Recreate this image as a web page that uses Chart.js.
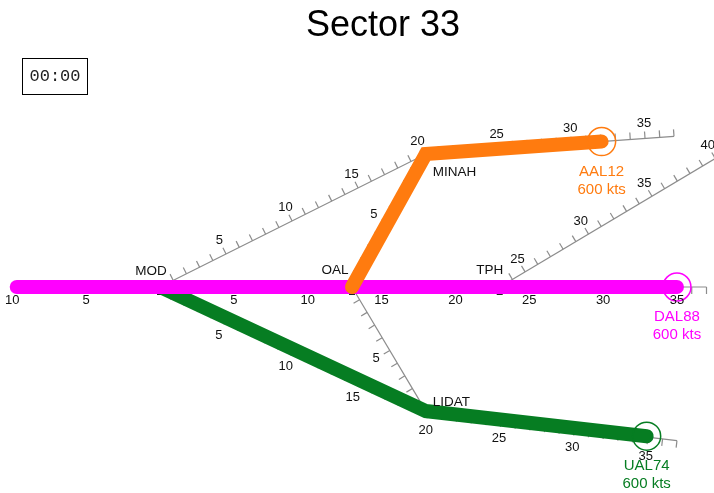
<!DOCTYPE html>
<html>
<head>
<meta charset="utf-8">
<title>Sector 33</title>
<script src="https://cdn.jsdelivr.net/npm/chart.js@4.4.1/dist/chart.umd.min.js"></script>
<style>
  html, body { margin: 0; padding: 0; background: #fff; }
  #wrap { position: relative; width: 714px; height: 493px; }
  #clock {
    position: absolute; left: 22px; top: 58px; width: 64px; height: 35px;
    border: 1px solid #000; text-align: center;
    font: 17px "Liberation Mono", "DejaVu Sans Mono", monospace; color: #222;
    line-height: 35px;
  }
</style>
</head>
<body>
<div id="wrap">
  <canvas id="sector" width="714" height="493"></canvas>
  <div id="clock">00:00</div>
</div>
<script>
// all positions in nm from MOD, x = east, y = north

//waypoints
const wpNames = ['MOD', 'OAL', 'TPH', 'MINAH', 'LIDAT'];
const wpX = [0, 13, 23, 18, 18];
const wpY = [0, 0, 0, 9, -8.4];

//airways (thin grey lines with nm ticks), the nm value at their first point, and their labelled marks
const hwyPts      = [[-10, 0], [37, 0]];                    // through MOD, OAL, TPH
const modMinahPts = [[0, 0], [18, 9], [34.8, 10.2]];
const oalMinahPts = [[13, 0], [18, 9]];
const oalLidatPts = [[13, 0], [18, -8.4]];
const modLidatPts = [[0, 0], [18, -8.4], [35, -10.4]];
const tphPts      = [[23, 0], [37.6, 8.7]];
const airways = [hwyPts, modMinahPts, oalMinahPts, oalLidatPts, modLidatPts, tphPts];
const airwayStart = [-10, 0, 0, 0, 0, 23];
const airwayLabels = [
  [-10, -5, 5, 10, 15, 20, 25, 30, 35],
  [5, 10, 15, 20, 25, 30, 35],
  [5],
  [5],
  [5, 10, 15, 20, 25, 30, 35],
  [25, 30, 35, 40]
];

//flights
const flights = ['AAL12', 'DAL88', 'UAL74'];
const speeds = [600, 600, 600];
const aalTrack = [[13, 0], [18, 9], [29.9, 9.85]];
const dalTrack = [[-9.7, 0], [35, 0]];
const ualTrack = [[0, 0], [18, -8.4], [32.95, -10.1]];
const tracks = [aalTrack, dalTrack, ualTrack];

// styling only
const flightColors = ['#ff7b0f', '#ff00ff', '#067d22'];
const airwaySide = [-1, 1, 1, -1, -1, 1];      // which side ticks + labels go
const airwayGap = [13, 15, 16, 16, 19, 15];   // px from line to label
const wpLabelPos = {
  MOD:   { dx: -9,   dy: -16, align: 'center' },
  OAL:   { dx: -17,  dy: -17, align: 'center' },
  TPH:   { dx: -10,  dy: -17, align: 'center' },
  MINAH: { dx: 7,    dy: 18,  align: 'left' },
  LIDAT: { dx: 7,    dy: -9,  align: 'left' }
};
const FONT = '"Liberation Sans", Arial, sans-serif';

var toXY = function(p) { return { x: p[0], y: p[1] }; };

//pixel helpers along an airway
var airwayGeom = function(chart, pts) {
  const sx = chart.scales.x, sy = chart.scales.y;
  let cum = [0];
  for (let i = 1; i < pts.length; i++) {
    cum.push(cum[i - 1] + Math.hypot(pts[i][0] - pts[i - 1][0], pts[i][1] - pts[i - 1][1]));
  }
  let px = pts.map(p => [sx.getPixelForValue(p[0]), sy.getPixelForValue(p[1])]);
  return { cum: cum, px: px, total: cum[cum.length - 1] };
};

var pointAt = function(g, d) {
  let i = 0;
  while (i < g.cum.length - 2 && d >= g.cum[i + 1]) i++;
  const t = (d - g.cum[i]) / (g.cum[i + 1] - g.cum[i]);
  const a = g.px[i], b = g.px[i + 1];
  const len = Math.hypot(b[0] - a[0], b[1] - a[1]);
  return {
    x: a[0] + (b[0] - a[0]) * t,
    y: a[1] + (b[1] - a[1]) * t,
    ux: (b[0] - a[0]) / len,
    uy: (b[1] - a[1]) / len
  };
};

const routeMarks = {
  id: 'routeMarks',
  beforeDatasetsDraw(chart) {
    const ctx = chart.ctx;
    const sx = chart.scales.x, sy = chart.scales.y;
    ctx.save();
    ctx.strokeStyle = '#8c8c8c';
    ctx.lineWidth = 1.2;
    airways.forEach((pts, r) => {
      const g = airwayGeom(chart, pts);
      const side = airwaySide[r];
      let dists = [];
      for (let v = Math.floor(airwayStart[r]) + 1; v < airwayStart[r] + g.total - 0.3; v++) {
        dists.push(v - airwayStart[r]);
      }
      dists.push(g.total);
      dists.forEach(d => {
        const p = pointAt(g, d);
        const nx = side * p.uy, ny = -side * p.ux;
        ctx.beginPath();
        ctx.moveTo(p.x, p.y);
        ctx.lineTo(p.x + nx * 7, p.y + ny * 7);
        ctx.stroke();
      });
    });
    //fix marks on the main airway
    ctx.fillStyle = '#222';
    for (let i = 0; i < 3; i++) {
      ctx.fillRect(sx.getPixelForValue(wpX[i]) - 3, sy.getPixelForValue(wpY[i]) + 3, 6, 5);
    }
    ctx.restore();
  },
  afterDatasetsDraw(chart) {
    const ctx = chart.ctx;
    const sx = chart.scales.x, sy = chart.scales.y;
    ctx.save();
    ctx.textBaseline = 'middle';
    //distance labels
    ctx.fillStyle = '#111';
    ctx.font = '13px ' + FONT;
    ctx.textAlign = 'center';
    airways.forEach((pts, r) => {
      const g = airwayGeom(chart, pts);
      const side = airwaySide[r];
      airwayLabels[r].forEach(v => {
        const p = pointAt(g, Math.min(v - airwayStart[r], g.total));
        const nx = side * p.uy, ny = -side * p.ux;
        ctx.fillText(String(Math.abs(v)), p.x + nx * airwayGap[r], p.y + ny * airwayGap[r]);
      });
    });
    //waypoint names
    ctx.font = '13.5px ' + FONT;
    wpNames.forEach((name, i) => {
      const lp = wpLabelPos[name];
      ctx.textAlign = lp.align;
      ctx.fillText(name, sx.getPixelForValue(wpX[i]) + lp.dx, sy.getPixelForValue(wpY[i]) + lp.dy);
    });
    //flight tags
    ctx.font = '15px ' + FONT;
    ctx.textAlign = 'center';
    flights.forEach((f, i) => {
      const last = tracks[i][tracks[i].length - 1];
      const x = sx.getPixelForValue(last[0]), y = sy.getPixelForValue(last[1]);
      ctx.fillStyle = flightColors[i];
      ctx.fillText(f, x, y + 30);
      ctx.fillText(speeds[i] + ' kts', x, y + 48);
    });
    ctx.restore();
  }
};

let datasets = [];
//aircraft rings
flights.forEach((f, i) => {
  const last = tracks[i][tracks[i].length - 1];
  datasets.push({
    label: f,
    data: [toXY(last)],
    showLine: false,
    pointRadius: 14,
    pointBackgroundColor: 'rgba(0,0,0,0)',
    pointBorderColor: flightColors[i],
    pointBorderWidth: 1.5,
    order: 1,
    clip: false
  });
});
//flown tracks
flights.forEach((f, i) => {
  datasets.push({
    label: f + ' track',
    data: tracks[i].map(toXY),
    showLine: true,
    borderColor: flightColors[i],
    borderWidth: 14,
    borderCapStyle: 'round',
    borderJoinStyle: 'miter',
    pointRadius: 0,
    order: 2,
    clip: false
  });
});
//airways
airways.forEach((pts, r) => {
  datasets.push({
    label: 'airway ' + r,
    data: pts.map(toXY),
    showLine: true,
    borderColor: '#8c8c8c',
    borderWidth: 1.2,
    pointRadius: 0,
    order: 5,
    clip: false
  });
});

new Chart(document.getElementById('sector'), {
  type: 'scatter',
  data: { datasets: datasets },
  options: {
    responsive: false,
    animation: false,
    events: [],
    layout: { autoPadding: false, padding: { left: 52, right: 0, top: 0, bottom: 0 } },
    scales: {
      x: { type: 'linear', display: false, min: -7.312, max: 37.508 },
      y: { type: 'linear', display: false, min: -13.947, max: 16.236 }
    },
    plugins: {
      legend: { display: false },
      tooltip: { enabled: false },
      title: {
        display: true,
        text: 'Sector 33',
        fullSize: false,
        color: '#000',
        font: { size: 36, family: FONT, weight: 'normal' },
        padding: { top: 4, bottom: 0 }
      }
    }
  },
  plugins: [routeMarks]
});
</script>
</body>
</html>
